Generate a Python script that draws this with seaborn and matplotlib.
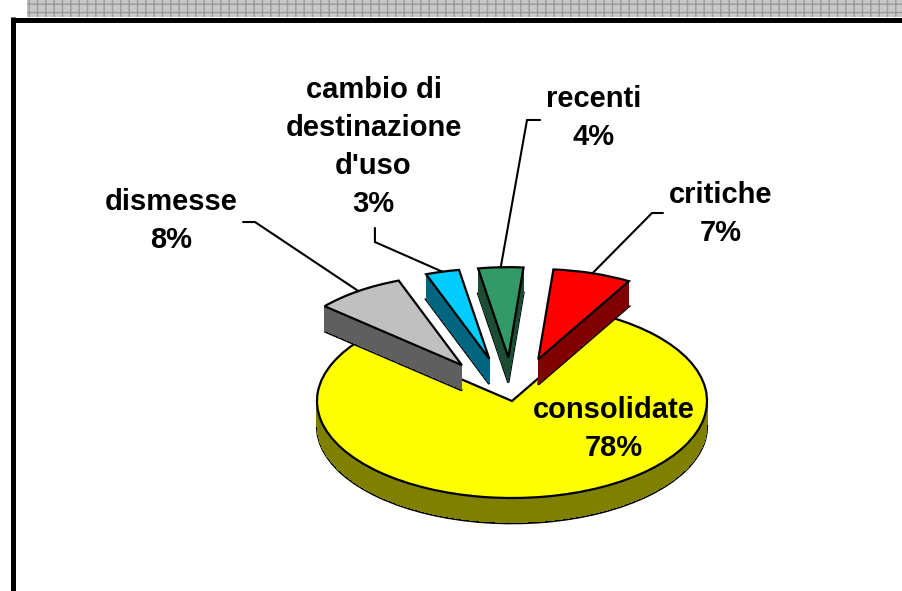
import numpy as np
import matplotlib
matplotlib.use("Agg")
import matplotlib.pyplot as plt
import seaborn as sns
from matplotlib.patches import Rectangle
from matplotlib.lines import Line2D

# dati del grafico
labels = ["consolidate", "dismesse", "cambio di\ndestinazione\nd'uso", "recenti", "critiche"]
shares = [78, 8, 3, 4, 7]
top_colors = ["#FFFF00", "#C0C0C0", "#00CCFF", "#339966", "#FF0000"]
side_colors = ["#808000", "#5F5F5F", "#00667F", "#1A4D33", "#800000"]
explode = [0, 0.45, 0.45, 0.45, 0.45]

# posizioni etichette (coordinate dati, centro torta = 0,0)
label_pos = [(0.52, -0.29), (-1.75, 1.86), (-0.71, 2.62), (0.42, 2.92), (1.07, 1.93)]
# punto di partenza delle linee guida e gomito
leader_start = [None, (-1.379, 1.845), (-0.703, 1.784), (0.144, 2.897), (0.774, 1.938)]
leader_knee = [None, (-1.318, 1.845), (-0.703, 1.639), (0.077, 2.897), (0.718, 1.938)]

sns.set_theme(style="white")
plt.rcParams["font.family"] = ["Liberation Sans", "DejaVu Sans"]

W, H = 903, 591
fig = plt.figure(figsize=(W / 100, H / 100), dpi=100)
ax = fig.add_axes([0, 0, 1, 1])

# torta "3D": tanti strati sovrapposti
depth = 0.26
n_layers = 30
top_wedges = None
for k in range(n_layers + 1):
    dy = -depth * (1 - k / n_layers)
    top = k == n_layers
    edge = top or k == 0
    wedges, _ = ax.pie(shares, explode=explode, startangle=60, counterclock=False,
                       colors=top_colors if top else side_colors,
                       center=(0, dy), radius=1,
                       wedgeprops=dict(linewidth=1.6 if edge else 0,
                                       edgecolor="black" if edge else "none"))
    for i, w in enumerate(wedges):
        base = 1 if i == 0 else 3
        w.set_zorder(base + (1 if top else 0))
        if i > 0:
            w.set_radius(0.93)  # fette staccate un po' piu' piccole (prospettiva)
        if not edge:
            w.set_antialiased(False)
    if top:
        top_wedges = wedges

cx, cy, rx, ry = 512, 401, 195, 97
ax.set_aspect("auto")
ax.set_xlim(-cx / rx, (W - cx) / rx)
ax.set_ylim(-(H - cy) / ry, cy / ry)
ax.axis("off")

for i, (lab, val) in enumerate(zip(labels, shares)):
    ax.text(label_pos[i][0], label_pos[i][1], f"{lab}\n{val}%", ha="center", va="center",
            multialignment="center", linespacing=1.45, fontsize=21, fontweight="bold",
            color="black", zorder=10)
    if leader_start[i] is None:
        continue
    w = top_wedges[i]
    mid = np.deg2rad((w.theta1 + w.theta2) / 2)
    ax_pt = (w.center[0] + w.r * np.cos(mid), w.center[1] + w.r * np.sin(mid))
    xs = [leader_start[i][0], leader_knee[i][0], ax_pt[0]]
    ys = [leader_start[i][1], leader_knee[i][1], ax_pt[1]]
    ax.plot(xs, ys, color="black", lw=1.5, zorder=9, solid_joinstyle="miter")

# cornice in stile foglio Excel
fig.patches.append(Rectangle((27 / W, 1 - 17 / H), 1, 17 / H, transform=fig.transFigure,
                             facecolor="#c8c8c8", edgecolor="#9a9a9a", hatch="++", lw=0))
fig.add_artist(Line2D([12 / W, 1], [1 - 19.5 / H] * 2, color="black", lw=3.6,
                      solid_capstyle="butt", transform=fig.transFigure))
fig.add_artist(Line2D([13.5 / W] * 2, [0, 1 - 17 / H], color="black", lw=3.6,
                      solid_capstyle="butt", transform=fig.transFigure))

fig.savefig("out.png", dpi=100)
